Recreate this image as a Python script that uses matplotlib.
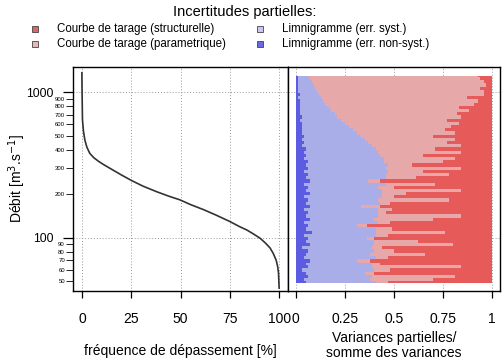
import numpy as np
import matplotlib
matplotlib.use("Agg")
import matplotlib.pyplot as plt
from matplotlib.lines import Line2D

plt.rcParams['font.family'] = ['Liberation Sans', 'DejaVu Sans']

# courbe des débits classés
freq = [0, 0.1, 0.3, 0.8, 1.5, 2.5, 4, 6, 8.3, 11, 14.2, 20, 25.2, 31, 37.9, 44,
        49.7, 55, 61.6, 68, 75.1, 80, 83.6, 87, 90.4, 93, 95.4, 97, 98.5, 99.3, 99.7, 100]
debit = [1360, 1000, 646, 540, 470, 420, 380, 355, 336, 318, 300, 270, 247, 226, 207, 193,
         182, 169, 156, 143, 129, 119, 113, 106, 99, 92, 85, 78, 70, 63, 57, 45]

# variances partielles par niveau de débit (fractions)
q_niv = [49, 51, 54, 57, 60, 63, 66, 69, 73, 77, 81, 85, 89, 94, 99, 104, 109, 115, 121, 127,
         134, 141, 148, 156, 164, 172, 181, 191, 201, 211, 222, 233, 245, 258, 272, 286, 300, 316,
         332, 350, 368, 387, 407, 428, 450, 474, 498, 524, 551, 580, 610, 642, 675, 710, 747, 786,
         827, 870, 915, 962, 1012, 1065, 1120, 1178, 1239, 1300]
limni_nonsyst = [0.05, 0.04, 0.06, 0.05, 0.03, 0.06, 0.05, 0.07, 0.04, 0.05, 0.06, 0.03, 0.07, 0.05,
                 0.06, 0.04, 0.08, 0.05, 0.06, 0.04, 0.07, 0.05, 0.06, 0.04, 0.07, 0.05, 0.06, 0.04,
                 0.07, 0.05, 0.06, 0.04, 0.07, 0.05, 0.06, 0.04, 0.06, 0.05, 0.06, 0.04, 0.05, 0.04,
                 0.05, 0.03, 0.04, 0.03, 0.04, 0.03, 0.03, 0.03, 0.03, 0.02, 0.03, 0.02, 0.02, 0.02,
                 0.02, 0.02, 0.01, 0.02, 0.01, 0.01, 0.01, 0.01, 0.01, 0.01]
limni_syst = [0.36, 0.34, 0.33, 0.30, 0.37, 0.33, 0.34, 0.24, 0.37, 0.33,
              0.34, 0.36, 0.33, 0.35, 0.30, 0.37, 0.33, 0.36, 0.25, 0.38,
              0.33, 0.37, 0.36, 0.38, 0.26, 0.38, 0.36, 0.40, 0.37, 0.39,
              0.36, 0.42, 0.30, 0.41, 0.40, 0.43, 0.40, 0.42, 0.39, 0.41,
              0.38, 0.38, 0.36, 0.36, 0.33, 0.32, 0.29, 0.28, 0.26, 0.24,
              0.22, 0.21, 0.18, 0.18, 0.16, 0.15, 0.13, 0.12, 0.12, 0.10,
              0.10, 0.09, 0.08, 0.07, 0.06, 0.05]
ct_param = [0.06, 0.32, 0.42, 0.05, 0.08, 0.45, 0.04, 0.07, 0.06, 0.28,
            0.10, 0.05, 0.40, 0.22, 0.04, 0.06, 0.35, 0.08, 0.05, 0.06,
            0.30, 0.42, 0.04, 0.07, 0.10, 0.05, 0.36, 0.06, 0.12, 0.40,
            0.08, 0.25, 0.06, 0.15, 0.32, 0.18, 0.38, 0.12, 0.30, 0.36,
            0.22, 0.42, 0.30, 0.45, 0.40, 0.46, 0.37, 0.50, 0.47, 0.52,
            0.58, 0.54, 0.63, 0.62, 0.70, 0.66, 0.76, 0.79, 0.74, 0.84,
            0.85, 0.84, 0.88, 0.88, 0.87, 0.87]

ticks_maj = [100, 1000]
ticks_min = [50, 60, 70, 80, 90, 200, 300, 400, 500, 600, 700, 800, 900]
xt_freq = [0, 25, 50, 75, 100]
xt_var = [0, 0.25, 0.5, 0.75, 1]
xt_var_lab = ['0', '0.25', '0.5', '0.75', '1']

col_ns = '#5C5CE2'
col_s = '#A9ADE8'
col_p = '#E6A8A8'
col_st = '#E65A5A'

fig = plt.figure(figsize=(5.03, 3.62), dpi=100)
ax1 = fig.add_axes([73/503, 1-291/362, 215/503, 224/362])
ax2 = fig.add_axes([288/503, 1-291/362, 212/503, 224/362])

for ax in (ax1, ax2):
    ax.set_yscale('log')
    ax.set_ylim(43, 1490)
    for s in ax.spines.values():
        s.set_linewidth(1.0)
    ax.grid(False)

# panneau gauche
ax1.set_xlim(-4.5, 104.5)
for v in xt_freq:
    ax1.axvline(v, color='#999999', ls=(0, (1, 2)), lw=0.7, zorder=0)
for v in ticks_maj:
    ax1.axhline(v, color='#999999', ls=(0, (1, 2)), lw=0.7, zorder=0)
ax1.plot(freq, debit, color='#333333', lw=1.2)
ax1.set_yticks(ticks_maj)
ax1.set_yticklabels(['100', '1000'], fontsize=8.7)
ax1.set_yticks(ticks_min, minor=True)
ax1.set_yticklabels([str(v) for v in ticks_min], minor=True, fontsize=4.3)
ax1.tick_params(axis='y', which='major', length=7, width=0.9, pad=7)
ax1.tick_params(axis='y', which='minor', length=5, width=0.6, pad=0.8)
ax1.set_xticks(xt_freq)
ax1.set_xticklabels([str(v) for v in xt_freq], fontsize=10)
ax1.tick_params(axis='x', length=5, width=0.9, pad=10)
ax1.set_xlabel('fréquence de dépassement [%]', fontsize=10, labelpad=13)
ax1.set_ylabel('Débit [m$^3$.s$^{-1}$]', fontsize=10, labelpad=-1)

# panneau droit : variances cumulées
ns = np.array(limni_nonsyst)
sy = np.array(limni_syst)
pa = np.array(ct_param)
b1 = ns
b2 = ns + sy
b3 = np.minimum(ns + sy + pa, 1.0)
ax2.set_xlim(-0.04, 1.04)
for v in xt_var:
    ax2.axvline(v, color='#999999', ls=(0, (1, 2)), lw=0.7, zorder=0)
for v in ticks_maj:
    ax2.axhline(v, color='#999999', ls=(0, (1, 2)), lw=0.7, zorder=0)
ax2.fill_betweenx(q_niv, 0, b1, color=col_ns, lw=0, step='mid')
ax2.fill_betweenx(q_niv, b1, b2, color=col_s, lw=0, step='mid')
ax2.fill_betweenx(q_niv, b2, b3, color=col_p, lw=0, step='mid')
ax2.fill_betweenx(q_niv, b3, 1, color=col_st, lw=0, step='mid')
ax2.set_yticks([])
ax2.set_yticks([], minor=True)
ax2.set_xticks(xt_var)
ax2.set_xticklabels(xt_var_lab, fontsize=10)
ax2.tick_params(axis='x', length=5, width=0.9, pad=10)
ax2.set_xlabel('Variances partielles/\nsomme des variances', fontsize=10,
               labelpad=4, linespacing=1.05)

# légende
fig.text(245/503, 1-12/362, 'Incertitudes partielles:', ha='center', va='center', fontsize=10.5)
leg = [(35, 29, '#E06464', 'Courbe de tarage (structurelle)'),
       (35, 44, '#E8B8B8', 'Courbe de tarage (parametrique)'),
       (260, 29, '#C8C8F2', 'Limnigramme (err. syst.)'),
       (260, 44, '#6A6ADA', 'Limnigramme (err. non-syst.)')]
for x, y, c, lab in leg:
    fig.add_artist(Line2D([x/503], [1-y/362], marker='s', ms=5, mfc=c, mec='#444444',
                          mew=0.6, ls='none', transform=fig.transFigure))
    fig.text((x+22)/503, 1-y/362, lab, ha='left', va='center', fontsize=8.3)

plt.savefig('out.png', dpi=100)
